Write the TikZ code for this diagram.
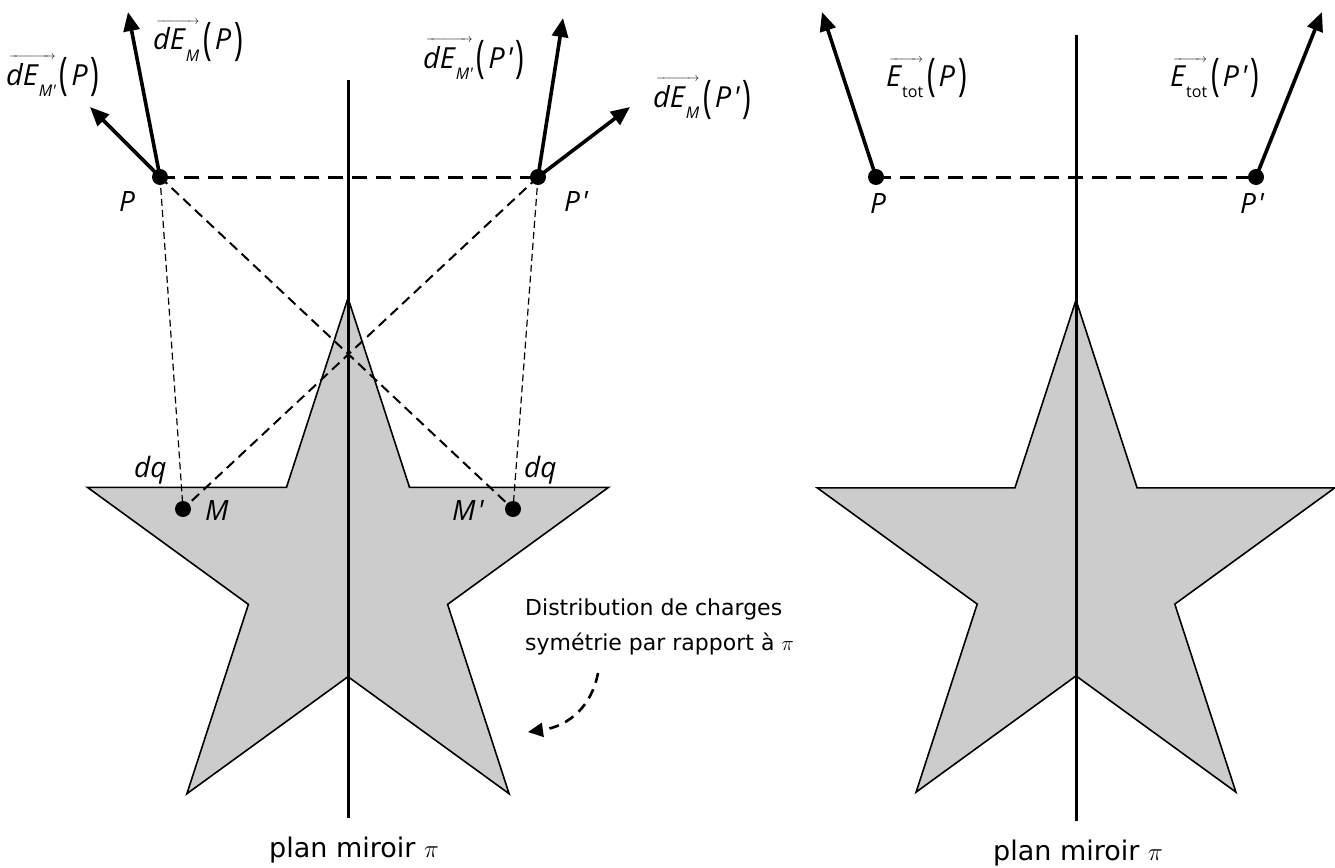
\documentclass[tikz,border=0pt]{standalone}
\usepackage{fontspec}
\usepackage{graphicx}
\setmainfont{DejaVu Sans}
\newfontfamily\labf{Open Sans}
\usetikzlibrary{arrows.meta}
\definecolor{starg}{HTML}{CCCCCC}
\newcommand{\lsub}[1]{\raisebox{-11pt}{\fontsize{16}{16}\selectfont #1}}
\newcommand{\lpar}[1]{\raisebox{-5pt}{\scalebox{1}[1.55]{\upshape(}}\kern3pt#1\kern3pt\raisebox{-5pt}{\scalebox{1}[1.55]{\upshape)}}}
\newcommand{\qt}{\kern2pt\textquotesingle}
\newcommand{\ovec}[1]{\setbox0\hbox{#1}\vbox{\offinterlineskip\hbox to\wd0{\kern3pt\fontsize{13}{13}\selectfont\rightarrowfill}\kern3pt\box0}}
\newcommand{\dEv}[2]{\ovec{\itshape dE\kern1pt\lsub{\itshape #1}}\kern4pt\lpar{\itshape #2}}
\newcommand{\Etv}[1]{\ovec{\itshape E\kern1pt\lsub{\upshape tot}}\kern4pt\lpar{\itshape #1}}
\tikzset{
  mirror/.style={line width=3pt},
  starshape/.style={fill=starg, draw=black, line width=1.6pt, line join=miter},
  vecarrow/.style={line width=3.6pt, -{Triangle[length=19pt,width=16pt]}},
  bigdash/.style={line width=3pt, dash pattern=on 15pt off 9pt},
  middash/.style={line width=2pt, dash pattern=on 10pt off 6pt},
  thindash/.style={line width=1.2pt, dash pattern=on 7pt off 4pt},
  curvarrow/.style={line width=2.6pt, dash pattern=on 10pt off 7pt, -{Triangle[length=15pt,width=14pt]}},
  dot/.style={circle, fill=black, inner sep=0pt, minimum size=16pt},
  lab/.style={inner sep=0pt, font=\labf\fontsize{29}{34}\selectfont},
  ilab/.style={inner sep=0pt, font=\labf\fontsize{28}{32}\selectfont\itshape},
  txt/.style={inner sep=0pt, font=\fontsize{22}{26}\selectfont},
  plantxt/.style={inner sep=0pt, font=\fontsize{27}{32}\selectfont}
}
\begin{document}
\begin{tikzpicture}[x=1pt,y=-1pt]
\useasboundingbox (0,0) rectangle (1335,867);
% ---------- left panel ----------
\filldraw[starshape] (348,298) -- (409.5,487.3) -- (608.6,487.3) -- (447.6,604.4) -- (509.1,793.7)
  -- (348,676.7) -- (186.9,793.7) -- (248.4,604.4) -- (87.4,487.3) -- (286.5,487.3) -- cycle;
\coordinate (mtop) at (348,80);
\coordinate (mbot) at (348,818);
\draw[mirror] (mtop) -- (mbot);
\coordinate (P) at (160,177);
\coordinate (Pp) at (538,177);
\coordinate (M) at (183,509);
\coordinate (Mp) at (513,509);
\draw[bigdash] (P) -- (Pp);
\draw[thindash] (P) -- (M);
\draw[thindash] (Pp) -- (Mp);
\draw[middash] (P) -- (Mp);
\draw[middash] (Pp) -- (M);
\coordinate (tEMP) at (128,12);
\coordinate (tEMpP) at (90,107);
\coordinate (tEMpPp) at (563,18);
\coordinate (tEMPp) at (630,107);
\draw[vecarrow] (P) -- (tEMP);
\draw[vecarrow] (P) -- (tEMpP);
\draw[vecarrow] (Pp) -- (tEMpPp);
\draw[vecarrow] (Pp) -- (tEMPp);
\node[dot] (Pdot) at (P) {};
\node[dot] (Ppdot) at (Pp) {};
\node[dot] (Mdot) at (M) {};
\node[dot] (Mpdot) at (Mp) {};
\node[lab, anchor=base west] (lEMP) at (153,50) {\dEv{M}{P}};
\node[lab, anchor=base west] (lEMpP) at (6,85) {\dEv{M\textquotesingle}{P}};
\node[lab, anchor=base west] (lEMpPp) at (423,68) {\dEv{M\textquotesingle}{P\qt}};
\node[lab, anchor=base west] (lEMPp) at (653,107) {\dEv{M}{P\qt}};
\node[ilab, anchor=base] (lP) at (127,211) {P};
\node[ilab, anchor=base] (lPp) at (576,211) {P\qt};
\node[ilab, anchor=base west] (ldq1) at (134,477) {dq};
\node[ilab, anchor=base west] (ldq2) at (524,477) {dq};
\node[ilab, anchor=base west] (lM) at (205,520) {M};
\node[ilab, anchor=base west] (lMp) at (452,520) {M\qt};
\node[txt, anchor=base west] (ann1) at (525,615) {Distribution de charges};
\node[txt, anchor=base west] (ann2) at (525,650) {symétrie par rapport à $\pi$};
\coordinate (cs) at (598,673);
\coordinate (ce) at (528,732);
\draw[curvarrow] (cs) .. controls (592,705) and (570,726) .. (ce);
\node[plantxt, anchor=base] (plan1) at (354,857) {plan miroir $\pi$};
% ---------- right panel ----------
\filldraw[starshape] (1076,300) -- (1137.1,487.9) -- (1334.7,487.9) -- (1174.8,604.1) -- (1235.9,792.1)
  -- (1076,675.9) -- (916.1,792.1) -- (977.2,604.1) -- (817.3,487.9) -- (1014.9,487.9) -- cycle;
\coordinate (rmtop) at (1076,35);
\coordinate (rmbot) at (1076,821);
\draw[mirror] (rmtop) -- (rmbot);
\coordinate (RP) at (876,177);
\coordinate (RPp) at (1256,177);
\draw[bigdash] (RP) -- (RPp);
\coordinate (tEP) at (822,12);
\coordinate (tEPp) at (1322,12);
\draw[vecarrow] (RP) -- (tEP);
\draw[vecarrow] (RPp) -- (tEPp);
\node[dot] (RPdot) at (RP) {};
\node[dot] (RPpdot) at (RPp) {};
\node[lab, anchor=base west] (lEtP) at (886,86) {\Etv{P}};
\node[lab, anchor=base west] (lEtPp) at (1170,86) {\Etv{P\qt}};
\node[ilab, anchor=base] (lRP) at (878,213) {P};
\node[ilab, anchor=base] (lRPp) at (1252,213) {P\qt};
\node[plantxt, anchor=base] (plan2) at (1078,860) {plan miroir $\pi$};
\end{tikzpicture}
\end{document}
